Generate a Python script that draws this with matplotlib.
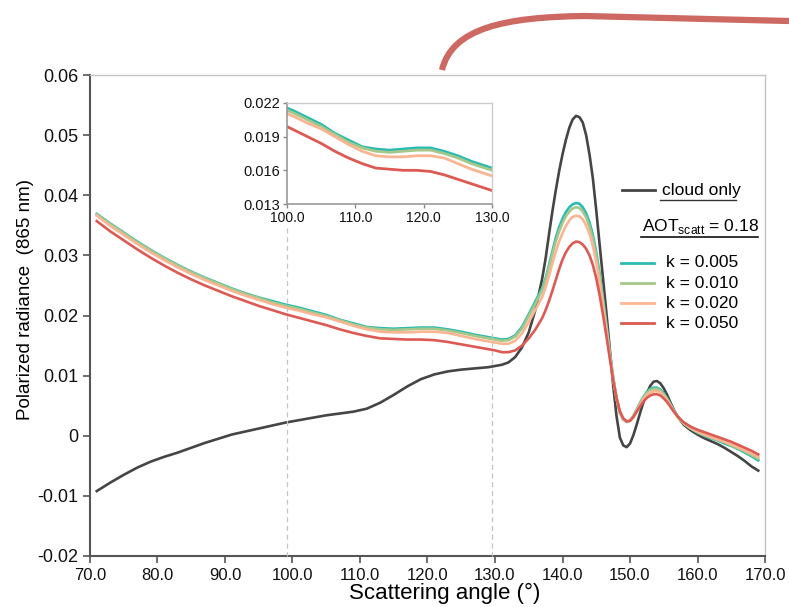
import matplotlib.pyplot as plt
import numpy as np
from matplotlib.path import Path
from matplotlib.patches import PathPatch
from matplotlib.lines import Line2D

plt.rcParams['font.family'] = ['Liberation Sans', 'DejaVu Sans']

# scattering angle grid (deg)
angle = [71, 73, 75, 77, 79, 81, 83, 85, 87, 89, 91, 93, 95, 97, 99,
         101, 103, 105, 107, 109, 111, 113, 115, 117, 119, 121, 123, 125, 127, 129,
         130, 131, 132, 133, 134, 135, 136, 137,
         137.5, 138, 138.5, 139, 139.5, 140, 140.5, 141, 141.5, 142, 142.5, 143,
         143.5, 144, 144.5, 145, 145.5, 146, 146.5, 147, 147.5, 148, 148.5, 149,
         149.5, 150, 150.5, 151, 151.5, 152, 152.5, 153, 153.5, 154, 154.5, 155,
         155.5, 156, 156.5, 157, 157.5, 158,
         159, 160, 161, 162, 163, 164, 165, 166, 167, 168, 169]

cloud_only = [-0.0092, -0.0078, -0.0065, -0.0053, -0.0043, -0.0035, -0.0028, -0.0020, -0.0012, -0.0005,
              0.0002, 0.0007, 0.0012, 0.0017, 0.0022,
              0.0026, 0.0030, 0.0034, 0.0037, 0.0040, 0.0045, 0.0055, 0.0068, 0.0082, 0.0094,
              0.0102, 0.0107, 0.0110, 0.0112, 0.0114,
              0.0116, 0.0118, 0.0122, 0.0131, 0.0147, 0.0172, 0.0210, 0.0262,
              0.0295, 0.0335, 0.0373, 0.0408, 0.0440, 0.0468, 0.0492, 0.0512, 0.0526, 0.0532, 0.0530, 0.0521,
              0.0500, 0.0468, 0.0428, 0.0375, 0.0318, 0.0262, 0.0205, 0.0145, 0.0085, 0.0033, -0.0003, -0.0016,
              -0.0019, -0.0013, 0.0001, 0.0019, 0.0038, 0.0056, 0.0071, 0.0083, 0.0090, 0.0091, 0.0087, 0.0079,
              0.0068, 0.0055, 0.0043, 0.0033, 0.0025, 0.0018,
              0.0009, 0.0002, -0.0004, -0.0009, -0.0014, -0.0020, -0.0027, -0.0034, -0.0042, -0.0051, -0.0058]

k_005 = [0.0369, 0.0353, 0.0338, 0.0323, 0.0309, 0.0296, 0.0284, 0.0273, 0.0263, 0.0254,
         0.0245, 0.0237, 0.0230, 0.0224, 0.0218,
         0.0213, 0.0207, 0.0201, 0.0193, 0.0187, 0.0181, 0.0179, 0.0178, 0.0179, 0.0180,
         0.0180, 0.0177, 0.0173, 0.0168, 0.0164,
         0.0162, 0.0160, 0.0161, 0.0167, 0.0181, 0.0202, 0.0224, 0.0246,
         0.0262, 0.0284, 0.0307, 0.0329, 0.0347, 0.0361, 0.0372, 0.0380, 0.0385, 0.0387, 0.0386, 0.0380,
         0.0370, 0.0355, 0.0334, 0.0305, 0.0270, 0.0229, 0.0185, 0.0140, 0.0098, 0.0063, 0.0038, 0.0027,
         0.0023, 0.0025, 0.0033, 0.0044, 0.0055, 0.0065, 0.0073, 0.0078, 0.0080, 0.0080, 0.0077, 0.0071,
         0.0062, 0.0052, 0.0042, 0.0033, 0.0026, 0.0020,
         0.0012, 0.0005, 0.0000, -0.0004, -0.0008, -0.0013, -0.0017, -0.0022, -0.0028, -0.0034, -0.0041]

k_010 = [0.0368, 0.0352, 0.0337, 0.0322, 0.0308, 0.0295, 0.0283, 0.0272, 0.0262, 0.0253,
         0.0244, 0.0236, 0.0229, 0.0222, 0.0216,
         0.0211, 0.0205, 0.0199, 0.0192, 0.0185, 0.0180, 0.0177, 0.0176, 0.0177, 0.0178,
         0.0178, 0.0175, 0.0171, 0.0166, 0.0162,
         0.0160, 0.0158, 0.0159, 0.0165, 0.0178, 0.0199, 0.0220, 0.0242,
         0.0259, 0.0280, 0.0302, 0.0323, 0.0340, 0.0354, 0.0365, 0.0373, 0.0378, 0.0380, 0.0379, 0.0373,
         0.0363, 0.0348, 0.0327, 0.0299, 0.0264, 0.0224, 0.0181, 0.0137, 0.0096, 0.0062, 0.0038, 0.0027,
         0.0023, 0.0025, 0.0033, 0.0043, 0.0054, 0.0064, 0.0071, 0.0076, 0.0078, 0.0078, 0.0075, 0.0069,
         0.0061, 0.0051, 0.0041, 0.0033, 0.0026, 0.0020,
         0.0012, 0.0006, 0.0001, -0.0003, -0.0007, -0.0011, -0.0016, -0.0021, -0.0026, -0.0032, -0.0038]

k_020 = [0.0366, 0.0349, 0.0334, 0.0319, 0.0305, 0.0292, 0.0280, 0.0269, 0.0259, 0.0250,
         0.0241, 0.0233, 0.0226, 0.0219, 0.0213,
         0.0208, 0.0202, 0.0197, 0.0190, 0.0183, 0.0177, 0.0173, 0.0172, 0.0172, 0.0173,
         0.0173, 0.0171, 0.0166, 0.0161, 0.0157,
         0.0155, 0.0153, 0.0153, 0.0158, 0.0170, 0.0189, 0.0210, 0.0231,
         0.0247, 0.0266, 0.0287, 0.0306, 0.0323, 0.0337, 0.0349, 0.0358, 0.0364, 0.0366, 0.0365, 0.0360,
         0.0350, 0.0336, 0.0316, 0.0289, 0.0255, 0.0216, 0.0175, 0.0133, 0.0095, 0.0062, 0.0039, 0.0028,
         0.0024, 0.0025, 0.0032, 0.0042, 0.0052, 0.0061, 0.0068, 0.0072, 0.0074, 0.0074, 0.0072, 0.0066,
         0.0059, 0.0050, 0.0041, 0.0033, 0.0026, 0.0021,
         0.0013, 0.0007, 0.0002, -0.0002, -0.0006, -0.0010, -0.0014, -0.0019, -0.0024, -0.0029, -0.0035]

k_050 = [0.0357, 0.0340, 0.0325, 0.0310, 0.0296, 0.0283, 0.0271, 0.0260, 0.0250, 0.0241,
         0.0232, 0.0224, 0.0216, 0.0209, 0.0202,
         0.0196, 0.0190, 0.0184, 0.0177, 0.0171, 0.0166, 0.0162, 0.0161, 0.0160, 0.0160,
         0.0159, 0.0156, 0.0152, 0.0148, 0.0144,
         0.0142, 0.0139, 0.0139, 0.0142, 0.0150, 0.0162, 0.0177, 0.0196,
         0.0209, 0.0224, 0.0241, 0.0259, 0.0277, 0.0293, 0.0305, 0.0314, 0.0320, 0.0323, 0.0322, 0.0318,
         0.0311, 0.0300, 0.0284, 0.0262, 0.0234, 0.0201, 0.0166, 0.0129, 0.0093, 0.0063, 0.0041, 0.0029,
         0.0024, 0.0025, 0.0031, 0.0040, 0.0049, 0.0057, 0.0063, 0.0067, 0.0069, 0.0069, 0.0067, 0.0062,
         0.0056, 0.0048, 0.0040, 0.0033, 0.0027, 0.0022,
         0.0015, 0.0010, 0.0006, 0.0002, -0.0002, -0.0006, -0.0010, -0.0015, -0.0020, -0.0025, -0.0031]

k_labels = ['k = 0.005', 'k = 0.010', 'k = 0.020', 'k = 0.050']
k_series = [k_005, k_010, k_020, k_050]
k_colors = ['#2bbbb1', '#a5c88a', '#fbb593', '#dc5a53']
cloud_color = '#454545'

W, H = 789, 607
fig = plt.figure(figsize=(W / 100, H / 100), dpi=100)


def fx(px):
    return px / W


def fy(py):
    return 1 - py / H


# main panel
ax = fig.add_axes([fx(90), fy(556), fx(765) - fx(90), fy(75) - fy(556)])
ax.plot(angle, cloud_only, color=cloud_color, lw=1.9, zorder=3)
for vals, c in zip(k_series, k_colors):
    ax.plot(angle, vals, color=c, lw=1.9, zorder=3)

ax.set_xlim(70, 170)
ax.set_ylim(-0.02, 0.06)
ax.set_xticks(np.arange(70, 171, 10))
ax.set_xticklabels(['%.1f' % v for v in np.arange(70, 171, 10)])
yt = np.round(np.arange(-0.02, 0.061, 0.01), 2)
ax.set_yticks(yt)
ax.set_yticklabels(['0' if v == 0 else '%.2f' % v for v in yt])
ax.tick_params(direction='out', length=5, width=1.2, color='#555555', colors='#111111')
ax.tick_params(axis='x', labelsize=12)
ax.tick_params(axis='y', labelsize=13)
for s in ['left', 'bottom']:
    ax.spines[s].set_color('#555555')
    ax.spines[s].set_linewidth(1.5)
for s in ['top', 'right']:
    ax.spines[s].set_color('#c4c4c4')
    ax.spines[s].set_linewidth(1.0)
fig.text(fx(445), fy(593), 'Scattering angle (°)', fontsize=16, ha='center', va='center')
fig.text(fx(25), fy(300), 'Polarized radiance  (865 nm)', fontsize=13.5, ha='center',
         va='center', rotation=90)

# zoomed inset
ins_l, ins_r, ins_t, ins_b = 287, 492, 103, 204
axi = fig.add_axes([fx(ins_l), fy(ins_b), fx(ins_r) - fx(ins_l), fy(ins_t) - fy(ins_b)])
axi.plot(angle, cloud_only, color=cloud_color, lw=2.0)
for vals, c in zip(k_series, k_colors):
    axi.plot(angle, vals, color=c, lw=2.0)
axi.set_xlim(100, 130)
axi.set_ylim(0.013, 0.022)
axi.set_xticks([100, 110, 120, 130])
axi.set_xticklabels(['100.0', '110.0', '120.0', '130.0'])
axi.set_yticks([0.013, 0.016, 0.019, 0.022])
axi.set_yticklabels(['0.013', '0.016', '0.019', '0.022'])
axi.tick_params(direction='out', length=3, width=1, color='#888888', colors='#111111', pad=2)
axi.tick_params(axis='x', labelsize=10)
axi.tick_params(axis='y', labelsize=10.5)
for s in ['left', 'bottom']:
    axi.spines[s].set_color('#999999')
    axi.spines[s].set_linewidth(1.2)
for s in ['top', 'right']:
    axi.spines[s].set_color('#cccccc')
    axi.spines[s].set_linewidth(1.0)

# dashed guides from the inset down to the angle axis
for px in (ins_l, ins_r):
    fig.add_artist(Line2D([fx(px), fx(px)], [fy(228), fy(556)], transform=fig.transFigure,
                          color='#c4c4c4', lw=0.9, ls=(0, (4, 3)), zorder=1))

# legend block
def seg(x0, x1, y, color, lw=2.0):
    fig.add_artist(Line2D([fx(x0), fx(x1)], [fy(y), fy(y)], transform=fig.transFigure,
                          color=color, lw=lw))

seg(622, 655, 190, cloud_color)
fig.text(fx(662), fy(190), 'cloud only', fontsize=12.5, va='center', ha='left')
seg(660, 736, 200, '#333333', lw=1.0)
fig.text(fx(642), fy(226), r'AOT$_{\mathregular{scatt}}$ = 0.18', fontsize=12.5,
         va='center', ha='left')
seg(641, 758, 237, '#111111', lw=1.2)
for i, (lab, c) in enumerate(zip(k_labels, k_colors)):
    y = 263 + 20 * i
    seg(621, 654, y, c)
    fig.text(fx(666), fy(y), lab, fontsize=12.5, va='center', ha='left')

# curved pointer across the top
verts = [(442, 70), (452, 28), (505, 17), (585, 16), (789, 21)]
codes = [Path.MOVETO, Path.CURVE4, Path.CURVE4, Path.CURVE4, Path.LINETO]
arc = Path([(fx(x), fy(y)) for x, y in verts], codes)
fig.add_artist(PathPatch(arc, transform=fig.transFigure, fill=False,
                         edgecolor='#cd6862', lw=4.5, capstyle='butt'))

fig.savefig('out.png', dpi=100)
